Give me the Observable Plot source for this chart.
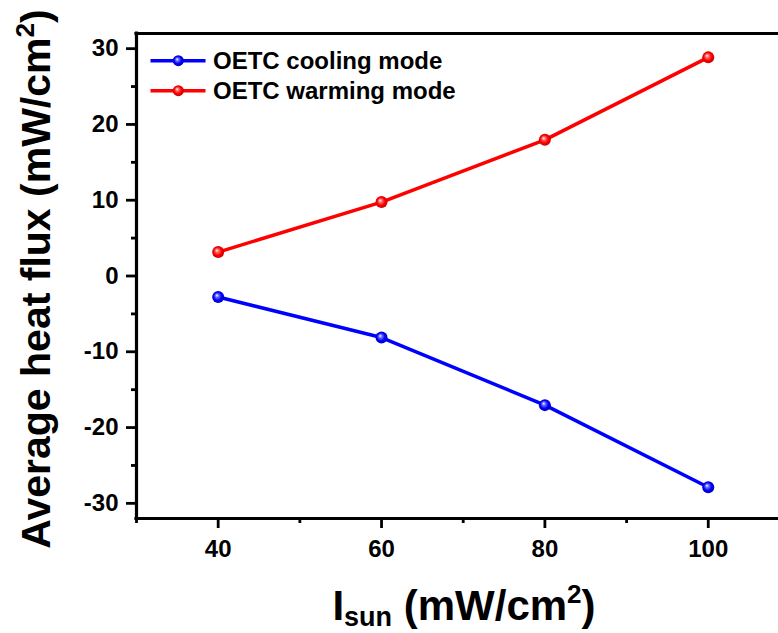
<!DOCTYPE html>
<html><head><meta charset="utf-8">
<script src="https://cdn.jsdelivr.net/npm/d3@7"></script>
<script src="https://cdn.jsdelivr.net/npm/@observablehq/plot@0.6"></script>
<style>html,body{margin:0;padding:0;background:#fff;overflow:hidden}</style>
</head><body><div id="chart"></div>
<script>
const intensity = [40, 60, 80, 100];
const coolingFlux = [-2.77, -8.12, -17.04, -27.88];
const warmingFlux = [3.16, 9.75, 17.97, 28.85];
const seriesNames = ["OETC cooling mode", "OETC warming mode"];
const seriesColors = ["#0000FF", "#FF0000"];
const yTicks = [-30, -20, -10, 0, 10, 20, 30];
const yMinorTicks = [-25, -15, -5, 5, 15, 25];
const xTicks = [40, 60, 80, 100];
const xMinorTicks = [30, 50, 70, 90];

const FONT = '"Liberation Sans", Arial, Helvetica, sans-serif';
const rows = [
  ...intensity.map((x, i) => ({x, y: coolingFlux[i], s: seriesNames[0]})),
  ...intensity.map((x, i) => ({x, y: warmingFlux[i], s: seriesNames[1]}))
];
const cool = rows.filter(d => d.s === seriesNames[0]);
const warm = rows.filter(d => d.s === seriesNames[1]);

const svg = Plot.plot({
  width: 778, height: 633,
  marginLeft: 136, marginRight: 0, marginTop: 33, marginBottom: 115,
  style: {fontFamily: FONT, background: "white", color: "black"},
  x: {domain: [30, 108.6], label: null},
  y: {domain: [-32, 32], label: null},
  color: {domain: seriesNames, range: seriesColors},
  marks: [
    Plot.axisY(yTicks, {tickSize: 10, tickPadding: 8, strokeWidth: 2.8, fontSize: 24, fontWeight: "bold", tickFormat: d => String(d), label: null}),
    Plot.axisY(yMinorTicks, {tickSize: 5, strokeWidth: 2.8, text: null, label: null}),
    Plot.axisX(xTicks, {tickSize: 10, tickPadding: 11, strokeWidth: 2.8, fontSize: 24, fontWeight: "bold", tickFormat: d => String(d), label: null}),
    Plot.axisX(xMinorTicks, {tickSize: 5, strokeWidth: 2.8, text: null, label: null}),
    Plot.ruleX([30], {strokeWidth: 3.2, strokeLinecap: "square"}),
    Plot.ruleY([-32, 32], {strokeWidth: 3.2, strokeLinecap: "square"}),
    Plot.line(rows, {x: "x", y: "y", stroke: "s", strokeWidth: 3.5}),
    Plot.dot(cool, {x: "x", y: "y", r: 6, fill: "url(#gBlue)", stroke: "none"}),
    Plot.dot(warm, {x: "x", y: "y", r: 6, fill: "url(#gRed)", stroke: "none"})
  ]
});
document.getElementById("chart").appendChild(svg);

const s = d3.select(svg);
const defs = s.insert("defs", ":first-child");
function grad(id, light, mid, dark) {
  const g = defs.append("radialGradient").attr("id", id)
    .attr("cx", "50%").attr("cy", "50%").attr("r", "55%").attr("fx", "38%").attr("fy", "35%");
  g.append("stop").attr("offset", "0%").attr("stop-color", "#ffffff");
  g.append("stop").attr("offset", "25%").attr("stop-color", light);
  g.append("stop").attr("offset", "60%").attr("stop-color", mid);
  g.append("stop").attr("offset", "100%").attr("stop-color", dark);
}
grad("gBlue", "#7070ff", "#0000ff", "#0000b0");
grad("gRed", "#ff7070", "#ff0000", "#c00000");

// legend
const leg = s.append("g")
  .style("font-family", FONT).style("font-weight", "bold").style("font-size", "24px")
  .attr("text-anchor", "start");
seriesNames.forEach((name, i) => {
  const cy = 60.7 + i * 30;
  leg.append("line").attr("x1", 150.5).attr("x2", 205.5).attr("y1", cy).attr("y2", cy)
    .attr("stroke", seriesColors[i]).attr("stroke-width", 3.5);
  leg.append("circle").attr("cx", 178.3).attr("cy", cy).attr("r", 5.5)
    .attr("fill", i === 0 ? "url(#gBlue)" : "url(#gRed)");
  leg.append("text").attr("x", 213).attr("y", cy + 8.5).attr("fill", "black")
    .style("text-anchor", "start").text(name);
});

// y axis title
const yt = s.append("text")
  .style("font-family", FONT).style("font-weight", "bold").style("font-size", "41px")
  .style("text-anchor", "middle").attr("fill", "black")
  .attr("transform", "translate(50,279) rotate(-90)");
yt.append("tspan").text("Average heat flux (mW/cm");
yt.append("tspan").style("font-size", "26px").attr("dy", -16).text("2");
yt.append("tspan").attr("dy", 16).text(")");

// x axis title
const xt = s.append("text")
  .style("font-family", FONT).style("font-weight", "bold").style("font-size", "42px")
  .style("text-anchor", "middle").attr("fill", "black").attr("x", 464).attr("y", 620);
xt.append("tspan").text("I");
xt.append("tspan").style("font-size", "27px").attr("dy", 6).text("sun");
xt.append("tspan").attr("dy", -6).text(" (mW/cm");
xt.append("tspan").style("font-size", "26px").attr("dy", -17).text("2");
xt.append("tspan").attr("dy", 17).text(")");
</script></body></html>
